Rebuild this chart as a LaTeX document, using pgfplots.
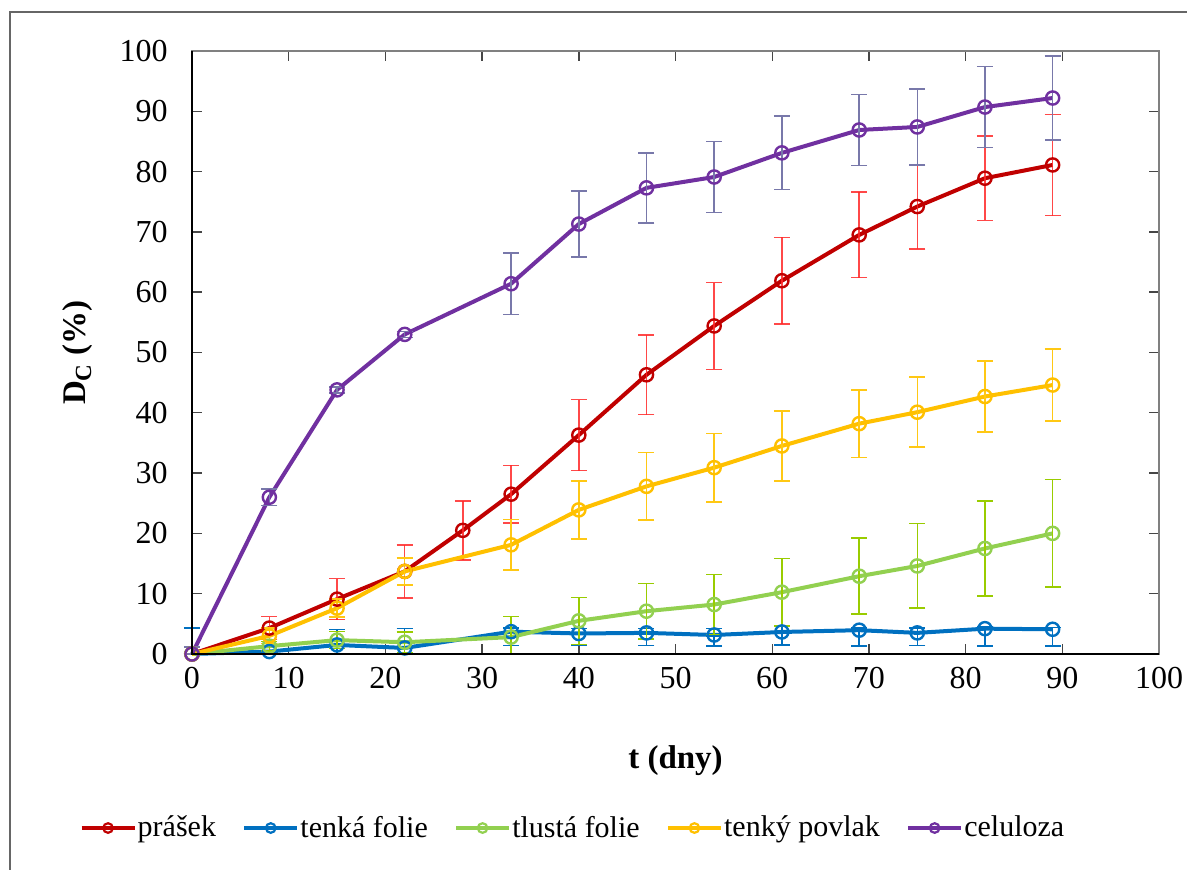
\documentclass[border=0pt]{standalone}
\usepackage{fontspec}
\setmainfont{Liberation Serif}
\usepackage{pgfplots}
\usepackage{pgfplotstable}
\pgfplotsset{compat=1.18}
\definecolor{cred}{RGB}{192,0,0}
\definecolor{cblue}{RGB}{0,112,192}
\definecolor{cgreen}{RGB}{146,208,80}
\definecolor{cyellow}{RGB}{255,192,0}
\definecolor{cpurple}{RGB}{112,48,160}
\definecolor{ered}{RGB}{255,40,40}
\definecolor{eblue}{RGB}{0,112,192}
\definecolor{egreen}{RGB}{153,204,0}
\definecolor{eyellow}{RGB}{255,200,20}
\definecolor{epurple}{RGB}{120,120,170}

\pgfplotstableread{
x y ep em
0 0 0 0
8 4.3 1.9 1.9
15 9.1 3.4 3.4
22 13.7 4.4 4.4
28 20.5 4.9 4.9
33 26.5 4.8 4.8
40 36.3 5.9 5.9
47 46.3 6.6 6.6
54 54.4 7.2 7.2
61 61.9 7.2 7.2
69 69.5 7.1 7.1
75 74.2 7.0 7.0
82 78.9 7.0 7.0
89 81.1 8.4 8.4
}\tred
\pgfplotstableread{
x y ep em
0 0 4.3 0
8 0.4 0 0.4
15 1.5 2.6 1.5
22 1.0 3.2 1.0
33 3.7 0.6 2.3
40 3.4 0.85 2.0
47 3.5 0.7 2.1
54 3.15 1.1 1.8
61 3.65 0.9 2.2
69 3.95 0.4 2.6
75 3.5 0.8 2.1
82 4.2 0.3 2.9
89 4.1 0.3 2.8
}\tblue
\pgfplotstableread{
x y ep em
0 0 0 0
8 1.3 0.8 0.8
15 2.3 1.4 1.4
22 1.95 1.7 1.7
33 2.8 3.4 2.8
40 5.5 3.9 3.9
47 7.1 4.6 4.6
54 8.2 5.0 5.0
61 10.25 5.6 5.6
69 12.9 6.3 6.3
75 14.6 7.0 7.0
82 17.5 7.9 7.9
89 20.0 8.9 8.9
}\tgreen
\pgfplotstableread{
x y ep em
0 0 0 0
8 3.0 1.3 1.3
15 7.6 1.5 1.5
22 13.7 2.25 2.25
33 18.1 4.2 4.2
40 23.9 4.8 4.8
47 27.8 5.6 5.6
54 30.9 5.7 5.7
61 34.5 5.8 5.8
69 38.2 5.6 5.6
75 40.1 5.8 5.8
82 42.7 5.9 5.9
89 44.6 6.0 6.0
}\tyellow
\pgfplotstableread{
x y ep em
0 0 1.2 0
8 26.0 1.35 1.35
15 43.8 0.5 0.5
22 53.0 0.5 0.5
33 61.4 5.1 5.1
40 71.3 5.5 5.5
47 77.3 5.8 5.8
54 79.1 5.9 5.9
61 83.1 6.1 6.1
69 86.9 5.9 5.9
75 87.4 6.3 6.3
82 90.7 6.7 6.7
89 92.2 7.0 7.0
}\tpurple

\begin{document}
\begin{tikzpicture}
\begin{axis}[
  scale only axis, width=483.5pt, height=301.5pt,
  xmin=0, xmax=100, ymin=0, ymax=100,
  xtick={0,10,...,100}, ytick={0,10,...,100},
  clip=false,
  tick align=inside, major tick length=5pt,
  tick style={line width=0.7pt, color=gray!55!black},
  axis line style={gray, line width=1pt},
  ticklabel style={font=\fontsize{16}{18}\selectfont},
  /pgf/number format/assume math mode=true,
  xticklabel style={yshift=-3pt},
  yticklabel style={xshift=-8.7pt},
  xlabel={\textbf{t (dny)}},
  ylabel={\textbf{D\textsubscript{C} (\%)}},
  label style={font=\fontsize{16.5}{19}\selectfont},
  xlabel style={at={(axis description cs:0.5,-0.176)}, anchor=center},
  ylabel style={at={(axis description cs:-0.118,0.5)}, anchor=center},
  every axis plot/.append style={line width=2pt, mark=o,
     mark options={line width=1.2pt, mark size=3.3pt, solid}},
  legend columns=5,
  legend style={draw=none, fill=none, at={(axis description cs:0.3935,-0.2886)}, anchor=center,
    font=\fontsize{15}{17}\selectfont, inner sep=0pt,
    nodes={inner sep=0.6pt},
    /tikz/every even column/.append style={column sep=12.5pt}},
  legend cell align=left,
  legend image code/.code={\draw[#1, mark repeat=2, mark phase=2, mark options={mark size=2.4pt, line width=1.1pt}] plot coordinates {(0pt,0pt) (13.25pt,0pt) (26.5pt,0pt)};},
]
\addplot[color=cred, error bars/.cd, y dir=both, y explicit,
  error bar style={line width=0.75pt, color=ered, opacity=0.85},
  error mark options={rotate=90, mark size=4pt, line width=0.75pt, color=ered}]
  table[x=x, y=y, y error plus=ep, y error minus=em]{\tred};
\addlegendentry{prášek}
\addplot[color=cblue, error bars/.cd, y dir=both, y explicit,
  error bar style={line width=0.75pt, color=eblue},
  error mark options={rotate=90, mark size=4pt, line width=0.75pt, color=eblue}]
  table[x=x, y=y, y error plus=ep, y error minus=em]{\tblue};
\addlegendentry{tenká folie}
\addplot[color=cgreen, error bars/.cd, y dir=both, y explicit,
  error bar style={line width=0.75pt, color=egreen},
  error mark options={rotate=90, mark size=4pt, line width=0.75pt, color=egreen}]
  table[x=x, y=y, y error plus=ep, y error minus=em]{\tgreen};
\addlegendentry{tlustá folie}
\addplot[color=cyellow, error bars/.cd, y dir=both, y explicit,
  error bar style={line width=0.75pt, color=eyellow},
  error mark options={rotate=90, mark size=4pt, line width=0.75pt, color=eyellow}]
  table[x=x, y=y, y error plus=ep, y error minus=em]{\tyellow};
\addlegendentry{tenký povlak}
\addplot[color=cpurple, error bars/.cd, y dir=both, y explicit,
  error bar style={line width=0.75pt, color=epurple},
  error mark options={rotate=90, mark size=4pt, line width=0.75pt, color=epurple}]
  table[x=x, y=y, y error plus=ep, y error minus=em]{\tpurple};
\addlegendentry{celuloza}
\end{axis}
\draw[black, line width=1pt] (0pt,301.5pt) -- (0pt,0pt) -- (483.5pt,0pt);
\draw[gray!80!black, line width=0.75pt] (-91pt,-110pt) -- (-91pt,321pt) -- (500pt,321pt);
\pgfresetboundingbox
\path[use as bounding box] (-96pt,-108pt) rectangle (497.5pt,327pt);
\end{tikzpicture}
\end{document}
